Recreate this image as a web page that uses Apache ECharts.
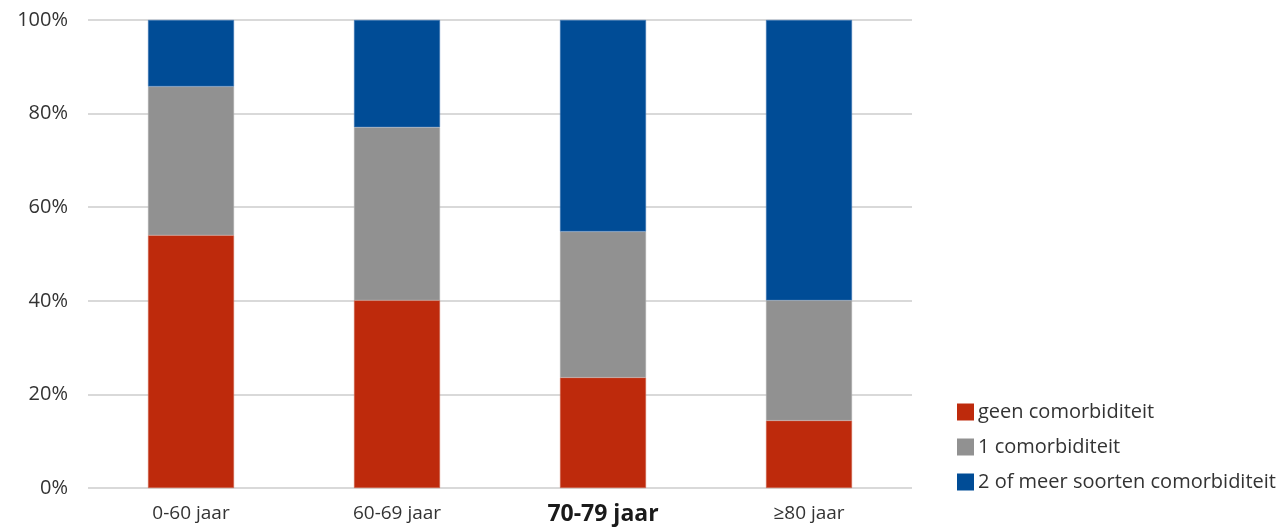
<!DOCTYPE html>
<html>
<head>
<meta charset="utf-8">
<script src="https://cdn.jsdelivr.net/npm/echarts@6/dist/echarts.min.js"></script>
<style>
html,body{margin:0;padding:0;background:#fff;}
#c{width:1281px;height:529px;}
</style>
</head>
<body>
<div id="c"></div>
<script>
const categories = ['0-60 jaar', '60-69 jaar', '70-79 jaar', '≥80 jaar'];
const seriesNames = ['geen comorbiditeit', '1 comorbiditeit', '2 of meer soorten comorbiditeit'];
const geen = [54.0, 40.1, 23.6, 14.4];
const een = [31.8, 37.0, 31.2, 25.7];
const tweeOfMeer = [14.2, 22.9, 45.2, 59.9];
const yTicks = [0, 20, 40, 60, 80, 100];
const boldCategory = '70-79 jaar';

const colors = ['#BE2A0C', '#919191', '#004C96'];
const borderColors = ['#D0705C', '#B0B0B0', '#4A7FB8'];
const font = '"Open Sans", "Noto Sans", sans-serif';

const chart = echarts.init(document.getElementById('c'), null, {renderer: 'canvas'});
const values = [geen, een, tweeOfMeer];
chart.setOption({
  animation: false,
  textStyle: {fontFamily: font},
  grid: {left: 88, right: 369, top: 20, bottom: 41, containLabel: false},
  legend: {
    orient: 'vertical',
    left: 957,
    top: 402,
    padding: 0,
    itemWidth: 17,
    itemHeight: 17,
    itemGap: 15,
    icon: 'rect',
    data: seriesNames,
    itemStyle: {borderWidth: 0},
    textStyle: {fontFamily: font, fontSize: 20, color: '#333', padding: [0, 0, 0, -1]}
  },
  xAxis: {
    type: 'category',
    data: categories,
    axisLine: {show: false},
    axisTick: {show: false},
    axisLabel: {
      margin: 15,
      fontSize: 19,
      lineHeight: 22,
      color: '#333',
      fontFamily: font,
      formatter: function (v) { return v === boldCategory ? '{b|' + v + '}' : v; },
      rich: {b: {fontSize: 23, lineHeight: 22, fontWeight: 'bold', color: '#1a1a1a', fontFamily: font}}
    }
  },
  yAxis: {
    type: 'value',
    min: yTicks[0],
    max: yTicks[yTicks.length - 1],
    interval: yTicks[1] - yTicks[0],
    axisLine: {show: false},
    axisTick: {show: false},
    splitLine: {lineStyle: {color: '#d9d9d9', width: 2}},
    axisLabel: {
      margin: 20,
      fontSize: 20,
      color: '#333',
      fontFamily: font,
      formatter: '{value}%'
    }
  },
  series: seriesNames.map((name, i) => ({
    name: name,
    type: 'bar',
    stack: 'total',
    barWidth: 86,
    data: values[i],
    itemStyle: {color: colors[i], borderColor: borderColors[i], borderWidth: 0.5}
  }))
});
</script>
</body>
</html>
